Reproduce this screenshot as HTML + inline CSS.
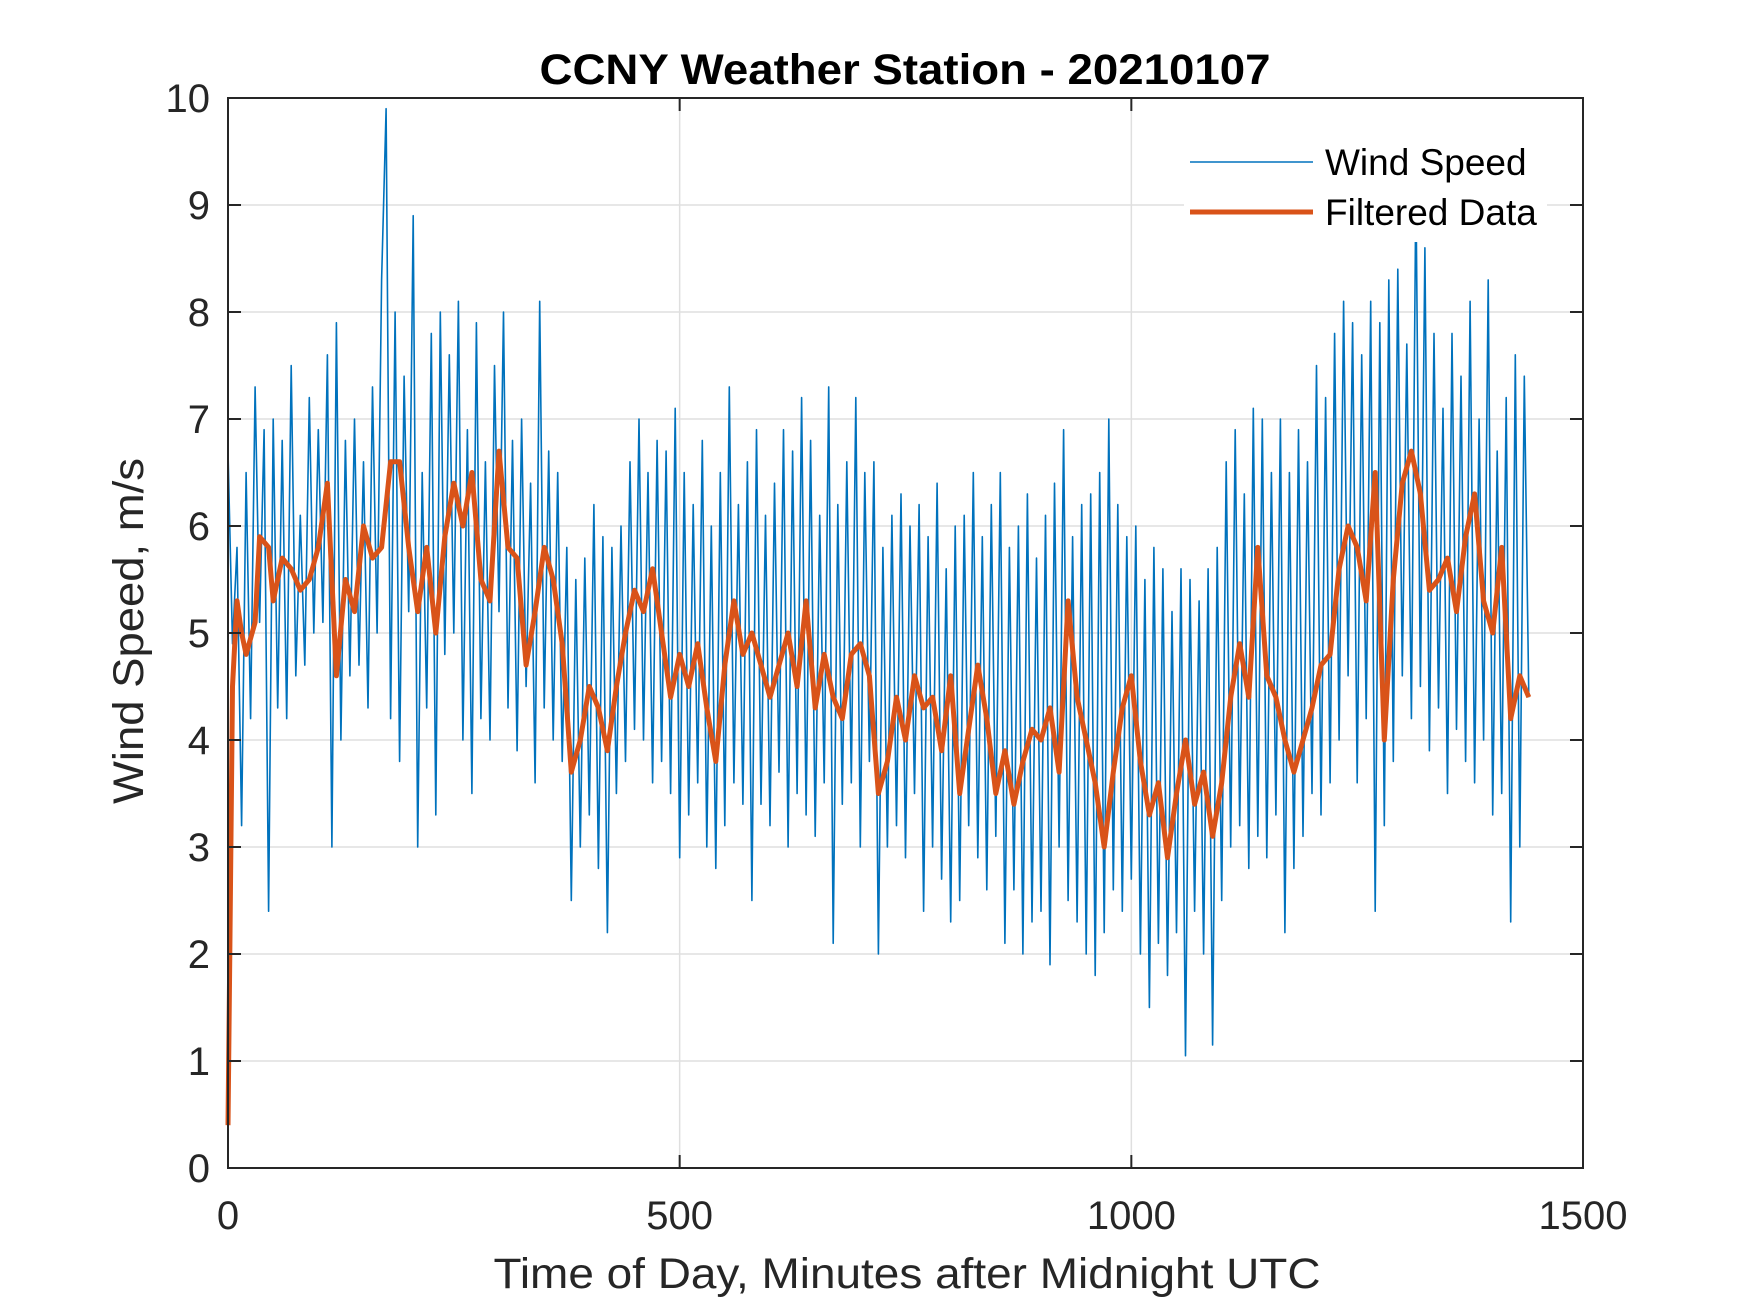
<!DOCTYPE html>
<html><head><meta charset="utf-8"><style>
body{margin:0;background:#fff}
svg{display:block;font-family:"Liberation Sans",sans-serif}
</style></head><body>
<svg id="chart" width="1750" height="1313" viewBox="0 0 1750 1313">
<rect width="1750" height="1313" fill="#fff"/>
<g id="grid"></g>
<g id="series"></g>
<g id="axes"></g>
<text x="905" y="84" text-anchor="middle" font-weight="bold" font-size="43" textLength="731" lengthAdjust="spacingAndGlyphs" fill="#000">CCNY Weather Station - 20210107</text>
<text x="907" y="1288" text-anchor="middle" font-size="43" textLength="827" lengthAdjust="spacingAndGlyphs" fill="#262626">Time of Day, Minutes after Midnight UTC</text>
<text transform="translate(143,631) rotate(-90)" text-anchor="middle" font-size="43" textLength="346" lengthAdjust="spacingAndGlyphs" fill="#262626">Wind Speed, m/s</text>
<g>
<rect x="1184" y="138" width="363" height="104" fill="#fff"/>
<line x1="1190" y1="162" x2="1313" y2="162" stroke="#0072BD" stroke-width="1.5"/>
<text x="1325" y="175" font-size="37" fill="#000">Wind Speed</text>
<line x1="1190" y1="212" x2="1313" y2="212" stroke="#D95319" stroke-width="5"/>
<text x="1325" y="225" font-size="37" fill="#000">Filtered Data</text>
</g>
</svg>
<script>
const rawStep = 5;
const rawValues = [
6.7,4.9,5.8,3.2,6.5,4.2,7.3,5.1,6.9,2.4,7.0,4.3,
6.8,4.2,7.5,4.6,6.1,4.7,7.2,5.0,6.9,5.1,7.6,3.0,
7.9,4.0,6.8,4.6,7.0,4.7,6.6,4.3,7.3,5.0,8.3,9.9,
4.2,8.0,3.8,7.4,5.2,8.9,3.0,6.5,4.3,7.8,3.3,8.0,
4.8,7.6,5.0,8.1,4.0,6.9,3.5,7.9,4.2,6.6,4.0,7.5,
5.2,8.0,4.3,6.8,3.9,7.0,4.5,6.4,3.6,8.1,4.3,6.7,
4.0,6.5,3.8,5.8,2.5,5.5,3.0,5.7,3.3,6.2,2.8,5.9,
2.2,5.8,3.5,6.0,3.8,6.6,4.1,7.0,4.0,6.5,3.6,6.8,
3.8,6.7,3.5,7.1,2.9,6.5,3.3,6.2,3.6,6.8,3.0,6.0,
2.8,6.5,3.2,7.3,3.6,6.2,3.4,6.6,2.5,6.9,3.4,6.1,
3.2,6.4,3.7,6.9,3.0,6.7,3.5,7.2,3.3,6.8,3.1,6.1,
3.6,7.3,2.1,6.2,3.4,6.6,3.6,7.2,3.0,6.5,3.8,6.6,
2.0,5.8,3.0,6.1,3.2,6.3,2.9,6.0,3.5,6.2,2.4,5.9,
3.0,6.4,2.7,5.6,2.3,6.0,2.5,6.1,3.2,6.5,2.9,5.9,
2.6,6.2,3.1,6.5,2.1,5.8,2.6,6.0,2.0,6.3,2.3,5.7,
2.4,6.1,1.9,6.4,3.0,6.9,2.5,5.9,2.3,6.2,2.0,6.3,
1.8,6.5,2.2,7.0,2.6,6.2,2.4,5.9,2.7,6.0,2.0,5.5,
1.5,5.8,2.1,5.6,1.8,5.2,2.2,5.6,1.05,5.5,2.4,5.3,
2.0,5.6,1.15,5.8,2.5,6.6,3.0,6.9,3.2,6.3,2.8,7.1,
3.1,7.0,2.9,6.5,3.3,7.0,2.2,6.5,2.8,6.9,3.1,6.6,
3.5,7.5,3.3,7.2,3.6,7.8,4.0,8.1,4.6,7.9,3.6,7.6,
4.2,8.1,2.4,7.9,3.2,8.3,3.8,8.4,4.6,7.7,4.2,9.2,
4.5,8.6,3.9,7.8,4.3,7.1,3.5,7.8,4.1,7.4,3.8,8.1,
3.6,7.0,4.0,8.3,3.3,6.7,3.5,7.2,2.3,7.6,3.0,7.4,
4.4];
const filtMinutes = [0,2,5,10,15,20,30,35,45,50,60,70,80,90,100,110,115,120,130,140,150,160,170,180,190,200,210,220,230,240,250,260,270,280,290,300,310,320,330,340,350,360,370,380,390,400,410,420,430,440,450,460,470,480,490,500,510,520,530,540,550,560,570,580,590,600,610,620,630,640,650,660,670,680,690,700,710,720,730,740,750,760,770,780,790,800,810,820,830,840,850,860,870,880,890,900,910,920,930,940,950,960,970,980,990,1000,1010,1020,1030,1040,1050,1060,1070,1080,1090,1100,1110,1120,1130,1140,1150,1160,1170,1180,1190,1200,1210,1220,1230,1240,1250,1260,1270,1280,1290,1300,1310,1320,1330,1340,1350,1360,1370,1380,1390,1400,1410,1420,1430,1440];
const filtValues = [0.4,2,4.5,5.3,5.0,4.8,5.1,5.9,5.8,5.3,5.7,5.6,5.4,5.5,5.8,6.4,5.5,4.6,5.5,5.2,6.0,5.7,5.8,6.6,6.6,5.8,5.2,5.8,5.0,5.9,6.4,6.0,6.5,5.5,5.3,6.7,5.8,5.7,4.7,5.2,5.8,5.5,4.9,3.7,4.0,4.5,4.3,3.9,4.5,5.0,5.4,5.2,5.6,5.0,4.4,4.8,4.5,4.9,4.3,3.8,4.7,5.3,4.8,5.0,4.7,4.4,4.7,5.0,4.5,5.3,4.3,4.8,4.4,4.2,4.8,4.9,4.6,3.5,3.8,4.4,4.0,4.6,4.3,4.4,3.9,4.6,3.5,4.1,4.7,4.2,3.5,3.9,3.4,3.8,4.1,4.0,4.3,3.7,5.3,4.4,4.0,3.6,3.0,3.7,4.3,4.6,3.8,3.3,3.6,2.9,3.5,4.0,3.4,3.7,3.1,3.6,4.4,4.9,4.4,5.8,4.6,4.4,4.0,3.7,4.0,4.3,4.7,4.8,5.6,6.0,5.8,5.3,6.5,4.0,5.5,6.4,6.7,6.3,5.4,5.5,5.7,5.2,5.9,6.3,5.3,5.0,5.8,4.2,4.6,4.4];
const xTicks = [0,500,1000,1500];
const yTicks = [0,1,2,3,4,5,6,7,8,9,10];

const NS = "http://www.w3.org/2000/svg";
const L = 228, R = 1583, T = 98, B = 1168;
const xs = v => L + (v - 0) / 1500 * (R - L);
const ys = v => B - (v - 0) / 10 * (B - T);
function mk(tag, attrs, parent) {
  const e = document.createElementNS(NS, tag);
  for (const k in attrs) e.setAttribute(k, attrs[k]);
  parent.appendChild(e);
  return e;
}
const grid = document.getElementById('grid');
const axes = document.getElementById('axes');
const series = document.getElementById('series');

xTicks.forEach(t => {
  const gl = mk('line', {x1: xs(t), x2: xs(t), y1: T, y2: B, stroke: '#dfdfdf', 'stroke-width': 1.5}, grid);
  
  
  const tk = mk('path', {d: `M${xs(t)},${B}v-13M${xs(t)},${T}v13`, stroke: '#262626', 'stroke-width': 2}, axes);
  
  
  const lb = mk('text', {x: xs(t), y: 1229, 'text-anchor': 'middle', 'font-size': 40, fill: '#262626'}, axes);
  lb.textContent = t;
  
  
});
yTicks.forEach(t => {
  const gl = mk('line', {x1: L, x2: R, y1: ys(t), y2: ys(t), stroke: '#dfdfdf', 'stroke-width': 1.5}, grid);
  
  
  const tk = mk('path', {d: `M${L},${ys(t)}h13M${R},${ys(t)}h-13`, stroke: '#262626', 'stroke-width': 2}, axes);
  
  
  const lb = mk('text', {x: 210, y: ys(t) + 14, 'text-anchor': 'end', 'font-size': 40, fill: '#262626'}, axes);
  lb.textContent = t;
  
  
});
const box = mk('rect', {x: L, y: T, width: R - L, height: B - T, fill: 'none', stroke: '#262626', 'stroke-width': 2}, axes);



const rawPts = rawValues.map((v, i) => `${xs(i * rawStep).toFixed(1)},${ys(v).toFixed(1)}`).join(' ');
const rawLine = mk('polyline', {points: rawPts, fill: 'none', stroke: '#0072BD', 'stroke-width': 1.6, 'stroke-linejoin': 'round'}, series);


const fPts = filtValues.map((v, i) => `${xs(filtMinutes[i]).toFixed(1)},${ys(v).toFixed(1)}`).join(' ');
const fLine = mk('polyline', {points: fPts, fill: 'none', stroke: '#D95319', 'stroke-width': 5, 'stroke-linejoin': 'round'}, series);


</script>
</body></html>
